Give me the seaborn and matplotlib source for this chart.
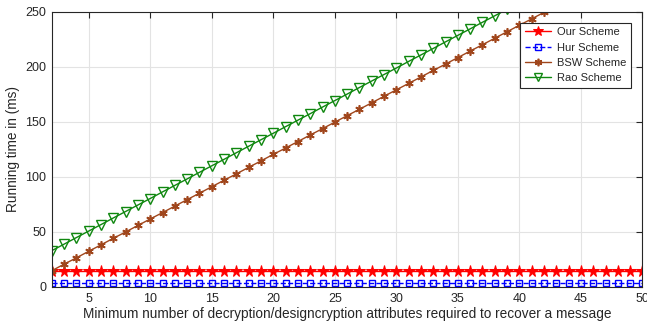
import numpy as np
import pandas as pd
import matplotlib
matplotlib.use("Agg")
import matplotlib.pyplot as plt
import seaborn as sns

n_attr = list(range(2, 51))

our_scheme = [14.8] * 49
hur_scheme = [3.3] * 49
bsw_scheme = [14.8, 20.7, 26.5, 32.4, 38.3, 44.2, 50.0, 55.9, 61.8, 67.6,
              73.5, 79.4, 85.2, 91.1, 97.0, 102.8, 108.7, 114.6, 120.5, 126.3,
              132.2, 138.1, 143.9, 149.8, 155.7, 161.5, 167.4, 173.3, 179.2, 185.0,
              190.9, 196.8, 202.6, 208.5, 214.4, 220.2, 226.1, 232.0, 237.9, 243.7,
              249.6, 255.5, 261.3, 267.2, 273.1, 278.9, 284.8, 290.7, 296.6]
rao_scheme = [33.0, 38.9, 44.9, 50.8, 56.7, 62.7, 68.6, 74.5, 80.4, 86.4,
              92.3, 98.2, 104.2, 110.1, 116.0, 122.0, 127.9, 133.8, 139.7, 145.7,
              151.6, 157.5, 163.5, 169.4, 175.3, 181.3, 187.2, 193.1, 199.0, 205.0,
              210.9, 216.8, 222.8, 228.7, 234.6, 240.6, 246.5, 252.4, 258.3, 264.3,
              270.2, 276.1, 282.1, 288.0, 293.9, 299.9, 305.8, 311.7, 317.6]

series = ["Our Scheme", "Hur Scheme", "BSW Scheme", "Rao Scheme"]

sns.set_style("whitegrid")
plt.rcParams['font.family'] = ['Liberation Sans', 'DejaVu Sans']

fig, ax = plt.subplots(figsize=(6.47, 3.31), dpi=100)
fig.subplots_adjust(left=0.080, right=0.993, top=0.964, bottom=0.133)

sns.lineplot(x=n_attr, y=our_scheme, ax=ax, color="#ff0000", marker="*",
             markersize=8.5, markeredgecolor="#ff0000", linewidth=1.0,
             label=series[0])
sns.lineplot(x=n_attr, y=hur_scheme, ax=ax, color="#0000ff", marker="s",
             markersize=5, markerfacecolor="none", markeredgecolor="#0000ff",
             markeredgewidth=1.0, linewidth=1.0, linestyle="--", label=series[1])
sns.lineplot(x=n_attr, y=bsw_scheme, ax=ax, color="#a0461c", marker=(6, 2, 0),
             markersize=6, markeredgecolor="#a0461c", markeredgewidth=1.2,
             linewidth=1.0, label=series[2])
sns.lineplot(x=n_attr, y=rao_scheme, ax=ax, color="#0f870f", marker="v",
             markersize=6.5, markerfacecolor="none", markeredgecolor="#0f870f",
             markeredgewidth=1.0, linewidth=1.0, label=series[3])

ax.set_xlim(2, 50)
ax.set_ylim(0, 250)
ax.set_xticks(np.arange(5, 51, 5))
ax.set_yticks(np.arange(0, 251, 50))
ax.grid(True, color="#e3e3e3", linewidth=0.8)
for s in ax.spines.values():
    s.set_color("#262626")
    s.set_linewidth(0.8)
ax.tick_params(direction="in", top=True, right=True, length=4, width=0.8,
               colors="#262626", labelsize=9, pad=4)

ax.set_xlabel("Minimum number of decryption/designcryption attributes required to recover a message",
              fontsize=9.8, color="#262626", labelpad=2)
ax.set_ylabel("Running time in (ms)", fontsize=9.8, color="#262626", labelpad=4)

leg = ax.legend(loc="upper right", bbox_to_anchor=(0.98, 0.96), fontsize=8,
                frameon=True, fancybox=False, edgecolor="#262626",
                framealpha=1, borderpad=0.4, labelspacing=0.48, handlelength=2.4,
                handletextpad=0.5, borderaxespad=0.0, markerscale=0.9)
leg.get_frame().set_linewidth(0.8)

plt.savefig("out.png", dpi=100)
